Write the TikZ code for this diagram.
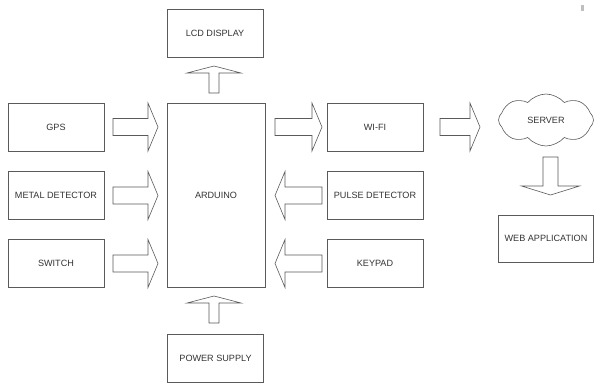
\documentclass[tikz,border=0pt]{standalone}
\usepackage{fontspec}
\setmainfont{Liberation Sans}
\usetikzlibrary{shapes.symbols}
\definecolor{ln}{HTML}{5A5A5A}
\definecolor{tx}{HTML}{333333}
\tikzset{
  blk/.style={draw=ln, line width=0.6pt, minimum width=96pt, minimum height=48pt, inner sep=0pt, text=tx, font=\fontsize{9.1}{10}\selectfont},
  barrow/.style={draw=ln, line width=0.6pt, line join=miter},
}
% right arrow: #1 shaft start x, #2 head base x, #3 tip x, #4 centre y, #5 shaft half, #6 head half
\newcommand{\rarrowshape}[6]{%
  \draw[barrow] (#1,#4-#5) -- (#2,#4-#5) -- (#2,#4-#6) -- (#3,#4) -- (#2,#4+#6) -- (#2,#4+#5) -- (#1,#4+#5) -- cycle;}
% vertical arrow: #1 centre x, #2 shaft start y, #3 head base y, #4 tip y, #5 shaft half, #6 head half
\newcommand{\varrowshape}[6]{%
  \draw[barrow] (#1-#5,#2) -- (#1-#5,#3) -- (#1-#6,#3) -- (#1,#4) -- (#1+#6,#3) -- (#1+#5,#3) -- (#1+#5,#2) -- cycle;}
\begin{document}
\begin{tikzpicture}[x=1pt,y=-1pt]
\useasboundingbox (0,0) rectangle (595,386);
\fill[white] (0,0) rectangle (595,386);
% boxes
\node[blk] (gps) at (56,127) {GPS};
\node[blk] (metal) at (56,195.5) {METAL DETECTOR};
\node[blk] (switch) at (56,263.5) {SWITCH};
\node[blk, minimum width=98pt, minimum height=184pt] (arduino) at (216,195) {ARDUINO};
\node[blk] (lcd) at (215,33) {LCD DISPLAY};
\node[blk] (power) at (215.5,358.5) {POWER SUPPLY};
\node[blk] (wifi) at (375,127) {WI-FI};
\node[blk] (pulse) at (375,195.5) {PULSE DETECTOR};
\node[blk] (keypad) at (375,263.5) {KEYPAD};
\node[blk, minimum width=95pt, minimum height=47pt] (web) at (546,238.5) {WEB APPLICATION};
\node[cloud, cloud puffs=8, cloud puff arc=100, aspect=2.1, draw=ln, line width=0.6pt, minimum width=95pt, minimum height=52pt, inner sep=0pt, text=tx, font=\fontsize{9.1}{10}\selectfont] (server) at (546,120) {SERVER};
% block arrows
\rarrowshape{113}{148}{158}{127}{8.5}{24}
\rarrowshape{113}{148}{158}{195.5}{8.5}{24}
\rarrowshape{113}{148}{158}{263.5}{8.5}{24}
\rarrowshape{275}{312}{322}{127}{8.5}{24}
\rarrowshape{440}{470}{480}{127}{8.5}{24}
\rarrowshape{322}{285}{275}{195.5}{8.5}{24}
\rarrowshape{322}{285}{275}{263.5}{8.5}{24}
\varrowshape{214}{93}{73}{66}{5}{27}
\varrowshape{214}{323}{303}{296}{5}{27}
\varrowshape{550.5}{157}{186}{195}{7.5}{29}
% small mark top right
\fill[gray!50] (581,5) rectangle (584,11);
\end{tikzpicture}
\end{document}
